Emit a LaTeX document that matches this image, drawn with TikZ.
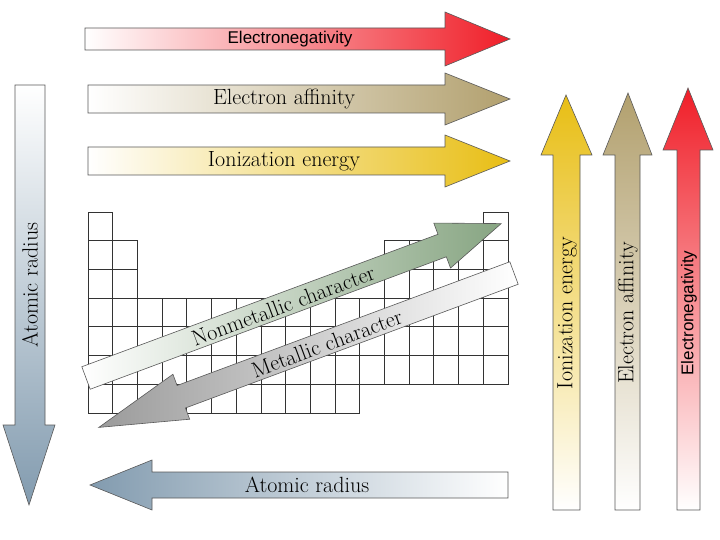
\documentclass[tikz,border=0pt]{standalone}
\usepackage{fontspec}
\newfontfamily\sans{Liberation Sans}
\begin{document}
\begin{tikzpicture}[x=1pt,y=-1pt,
  arr/.style={draw=black!65,line width=0.6pt},
  lab/.style={font=\fontsize{22}{22}\selectfont,inner sep=0pt},
  slab/.style={font=\sans\fontsize{17}{17}\selectfont,inner sep=0pt}]
\definecolor{red1}{RGB}{240,30,40}
\definecolor{tan1}{RGB}{178,160,110}
\definecolor{gold1}{RGB}{232,190,20}
\definecolor{blu1}{RGB}{130,155,175}
\definecolor{grn1}{RGB}{135,165,130}
\definecolor{gry1}{RGB}{155,155,155}
\useasboundingbox (0,0) rectangle (720,540);
% periodic table grid
\foreach \c in {1,...,17} {
  \pgfmathsetmacro\xa{88+(\c-1)*24.7}
  \pgfmathsetmacro\xb{88+\c*24.7}
  \foreach \r in {1,...,7} {
    \pgfmathtruncatemacro\ok{(\r==1 && (\c==1 || \c==17)) || ((\r==2 || \r==3) && (\c<=2 || \c>=13)) || (\r>=4 && \r<=6) || (\r==7 && \c<=11)}
    \ifnum\ok=1
      \draw[black!80,line width=0.7pt] (\xa,{212+(\r-1)*28.7}) rectangle (\xb,{212+\r*28.7});
    \fi
  }
}
% top horizontal arrows
\shade[arr,left color=white,right color=red1] (85,28)--(445,28)--(445,12)--(510,39)--(445,66)--(445,50)--(85,50)--cycle;
\node[slab] (en1) at (290,39) {Electronegativity};
\shade[arr,left color=white,right color=tan1] (88,85)--(445,85)--(445,73)--(510,99)--(445,125)--(445,113)--(88,113)--cycle;
\node[lab] (ea1) at (284,99) {Electron affinity};
\shade[arr,left color=white,right color=gold1] (88,147)--(445,147)--(445,135)--(510,161)--(445,187)--(445,175)--(88,175)--cycle;
\node[lab] (ie1) at (284,161) {Ionization energy};
% left vertical atomic radius
\shade[arr,top color=white,bottom color=blu1] (15,85)--(45,85)--(45,425)--(55,425)--(29,505)--(3,425)--(15,425)--cycle;
\node[lab,rotate=90] (ar1) at (30,285) {Atomic radius};
% bottom atomic radius
\shade[arr,left color=blu1,right color=white] (508,472)--(152,472)--(152,460)--(90,485)--(152,510)--(152,498)--(508,498)--cycle;
\node[lab] (ar2) at (307,485) {Atomic radius};
% right vertical arrows
\shade[arr,bottom color=white,top color=gold1] (553,510)--(553,155)--(541,155)--(566,95)--(592,155)--(580,155)--(580,510)--cycle;
\node[lab,rotate=90] (ie2) at (567,313) {Ionization energy};
\shade[arr,bottom color=white,top color=tan1] (615,510)--(615,155)--(603,155)--(628,93)--(652,155)--(640,155)--(640,510)--cycle;
\node[lab,rotate=90] (ea2) at (628,313) {Electron affinity};
\shade[arr,bottom color=white,top color=red1] (677,510)--(677,150)--(663,150)--(688,88)--(713,150)--(700,150)--(700,510)--cycle;
\node[slab,rotate=90] (en2) at (689,313) {Electronegativity};
% diagonal arrows
\begin{scope}[shift={(86,378)},rotate=20.4]
\shade[arr,left color=white,right color=grn1] (0,-12)--(380,-12)--(380,-24)--(443,0)--(380,24)--(380,12)--(0,12)--cycle;
\node[lab,rotate=20.4] (nm) at (210,1) {Nonmetallic character};
\end{scope}
\begin{scope}[shift={(514,273)},rotate=20.4]
\shade[arr,right color=white,left color=gry1] (0,-12)--(-355,-12)--(-355,-24)--(-443,0)--(-355,24)--(-355,12)--(0,12)--cycle;
\node[lab,rotate=20.4] (mc) at (-200,1) {Metallic character};
\end{scope}
\end{tikzpicture}
\end{document}
